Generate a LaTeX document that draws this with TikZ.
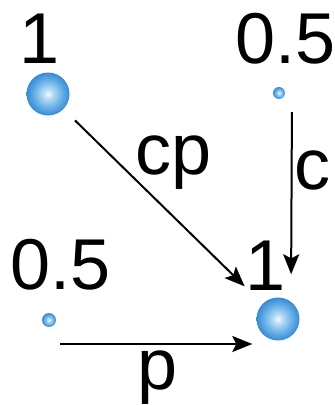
\documentclass[tikz,border=0pt]{standalone}
\usepackage{fontspec}
\setmainfont{Liberation Sans}
\usetikzlibrary{arrows.meta}
\definecolor{ballA}{HTML}{F2FAFF}
\definecolor{ballB}{HTML}{B4DAF4}
\definecolor{ballC}{HTML}{67B0E8}
\definecolor{ballD}{HTML}{3A8AD3}
\pgfdeclareradialshading{ballsh}{\pgfpoint{0bp}{0bp}}{%
  color(0bp)=(ballA); color(6bp)=(ballB); color(16bp)=(ballC); color(25bp)=(ballD); color(50bp)=(ballD)}
\tikzset{
  ball/.style={circle, draw=none, inner sep=0pt, shading=ballsh, minimum size=#1},
  lbl/.style={inner sep=0pt, anchor=base west, font=\fontsize{72}{80}\selectfont},
  arr/.style={line width=2pt, -{Stealth[length=20pt, width=16pt, inset=4pt]}}
}
\begin{document}
\begin{tikzpicture}[x=1pt, y=-1pt]
\useasboundingbox (0,0) rectangle (335,405);
% balls
\node[ball=43pt] (tl) at (48,94) {};
\node[ball=12pt] (tr) at (279,93) {};
\node[ball=14pt] (bl) at (49,320) {};
\node[ball=43pt] (br) at (278,319) {};
% labels
\node[lbl] (ltl) at (19,63) {1};
\node[lbl] (ltr) at (235,63) {0.5};
\node[lbl] (lbl) at (10,289) {0.5};
\node[lbl] (lbr) at (245,290) {1};
\node[lbl] (lcp) at (135,174) {cp};
\node[lbl] (lc) at (294,189) {c};
\node[lbl] (lp) at (137,389) {p};
% arrows
\draw[arr, shorten <=16pt, shorten >=25pt] (tl) -- (br);
\draw[arr, shorten <=13pt, shorten >=23pt] ([xshift=13pt]tr.south) -- ([xshift=13pt]br.north);
\draw[arr, shorten <=4pt, shorten >=4pt] ([yshift=-24pt]bl.east) -- ([yshift=-25pt]br.west);
\end{tikzpicture}
\end{document}
